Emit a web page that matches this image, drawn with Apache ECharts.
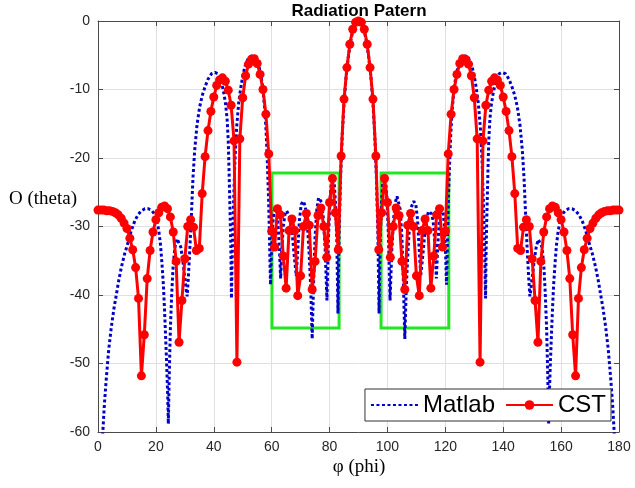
<!DOCTYPE html>
<html><head><meta charset="utf-8">
<script src="https://cdn.jsdelivr.net/npm/echarts@6/dist/echarts.min.js"></script>
<style>html,body{margin:0;padding:0;background:#fff}#c{width:635px;height:488px}</style>
</head><body><div id="c"></div>
<script>
const titleText = 'Radiation Patern';
const xName = 'φ (phi)';
const yName = 'O (theta)';
const seriesNames = ['Matlab', 'CST'];
const xMin = 0, xMax = 180, xStep = 20;
const yMin = -60, yMax = 0, yStep = 10;

// Matlab (blue dotted) : phi / dB pairs
const matlabPhi = [1.6,2.2,2.9,3.7,4.6,5.5,6.4,7.2,8.1,9.2,10.4,11.5,12.7,13.8,15.0,16.2,17.3,18.4,19.4,20.3,21.0,21.6,22.1,22.6,23.0,23.4,23.8,24.1,24.3,24.6,25.0,25.5,26.0,26.6,27.3,27.9,28.6,29.3,30.0,30.5,30.8,31.2,31.7,32.3,32.8,33.4,34.2,35.1,36.0,36.9,38.0,39.2,40.4,41.4,42.1,42.8,43.5,44.1,44.6,45.0,45.3,45.6,45.9,46.1,46.4,46.8,47.3,47.9,48.6,49.3,50.1,51.0,52.0,53.0,54.0,54.9,55.7,56.4,57.0,57.6,58.1,58.5,58.9,59.2,59.4,59.6,59.9,60.3,60.8,61.2,61.7,62.2,62.7,63.1,63.5,64.0,64.6,65.2,65.8,66.4,67.1,67.8,68.5,69.0,69.6,70.2,70.9,71.6,72.3,72.9,73.5,74.0,74.5,75.0,75.6,76.2,76.7,77.3,77.9,78.5,79.1,79.6,80.1,80.6,81.1,81.6,82.1,82.5,82.9,83.3,83.8,84.4,85.0,85.7,86.5,87.3,88.1,88.9,89.6,90.4,91.1,91.9,92.7,93.5,94.3,95.0,95.6,96.2,96.7,97.1,97.5,97.9,98.4,98.9,99.4,99.9,100.4,100.9,101.5,102.1,102.7,103.3,103.8,104.4,105.0,105.5,106.0,106.5,107.1,107.7,108.4,109.1,109.8,110.4,111.0,111.5,112.2,112.9,113.6,114.2,114.8,115.4,116.0,116.5,116.9,117.3,117.8,118.3,118.8,119.2,119.7,120.1,120.4,120.6,120.8,121.1,121.5,121.9,122.4,123.0,123.6,124.3,125.1,126.0,127.0,128.0,129.0,129.9,130.7,131.4,132.1,132.7,133.2,133.6,133.9,134.1,134.4,134.7,135.0,135.4,135.9,136.5,137.2,137.9,138.6,139.6,140.8,142.0,143.1,144.0,144.9,145.8,146.6,147.2,147.7,148.3,148.8,149.2,149.5,150.0,150.7,151.4,152.1,152.7,153.4,154.0,154.5,155.0,155.4,155.7,155.9,156.2,156.6,157.0,157.4,157.9,158.4,159.0,159.7,160.6,161.6,162.7,163.8,165.0,166.2,167.3,168.5,169.6,170.8,171.9,172.8,173.6,174.5,175.4,176.3,177.1,177.8,178.4];
const matlabDb = [-60.5,-56,-52,-48,-44.7,-42,-39.8,-37.8,-35.9,-34,-32.3,-30.6,-29.2,-28.3,-27.7,-27.4,-27.4,-27.6,-28.1,-29.1,-30.6,-32.7,-35.4,-38.6,-42.3,-46.5,-51,-55,-58.8,-52,-45,-39.5,-35.5,-33,-31.8,-31.9,-33,-35,-37.5,-39.4,-40.2,-37.5,-33.5,-28,-23,-18.9,-15.2,-12.6,-10.9,-9.7,-8.5,-7.7,-7.5,-7.7,-8.2,-9.2,-10.6,-12.2,-14.3,-17.5,-22.3,-27.5,-33,-40.5,-34,-27,-20.5,-15.5,-12.0,-9.8,-7.8,-6.3,-5.4,-5.1,-5.2,-5.8,-6.8,-8.2,-10.0,-12.8,-16.3,-20.5,-25.5,-30.5,-35,-38.5,-34,-30,-27.8,-27.3,-27.8,-29.8,-33.5,-37.6,-33.5,-30,-28.2,-27.7,-27.8,-28.8,-31,-34.3,-37.2,-33.5,-29,-26.8,-26.3,-27,-29.5,-33.5,-39,-46.4,-38,-31.5,-27.5,-25.8,-25.6,-26.5,-29,-33.5,-40.8,-32,-26.5,-23.5,-22.5,-23.5,-27,-32,-42.7,-31,-23,-16.5,-12.0,-8.2,-5.2,-2.9,-1.3,-0.3,0,0,-0.3,-1.3,-2.9,-5.2,-8.2,-12.0,-16.5,-23,-31,-42.7,-32,-27,-23.5,-22.5,-23.5,-26.5,-32,-40.8,-33.5,-29,-26.5,-25.6,-25.8,-27.5,-31.5,-38,-46.4,-39,-33.5,-29.5,-27,-26.3,-26.8,-29,-33.5,-37.2,-34.3,-31,-28.8,-27.8,-27.7,-28.2,-30,-33.5,-37.6,-33.5,-29.8,-27.8,-27.3,-27.8,-30,-34,-38.5,-35,-30.5,-25.5,-20.5,-16.3,-12.8,-10.0,-8.2,-6.8,-5.8,-5.2,-5.1,-5.4,-6.3,-7.8,-9.8,-12.0,-15.5,-20.5,-27,-34,-40.5,-33,-27.5,-22.3,-17.5,-14.3,-12.2,-10.6,-9.2,-8.2,-7.7,-7.5,-7.7,-8.5,-9.7,-10.9,-12.6,-15.2,-18.9,-23,-28,-33.5,-37.5,-40.2,-39.4,-37.5,-35,-33,-31.9,-31.8,-33,-35.5,-39.5,-45,-52,-58.8,-55,-51,-46.5,-42.3,-38.6,-35.4,-32.7,-30.6,-29.1,-28.1,-27.6,-27.4,-27.4,-27.7,-28.3,-29.2,-30.6,-32.3,-34,-35.9,-37.8,-39.8,-42,-44.7,-48,-52,-56,-60.5];

// CST (red, markers) : one value per degree, phi = 0 .. 180
const cstPhiStart = 0, cstPhiStep = 1;
const cstDb = [-27.6,-27.6,-27.6,-27.7,-27.7,-27.8,-28.0,-28.3,-28.8,-29.5,
-30.3,-31.7,-33.4,-36.0,-40.5,-51.8,-45.8,-37.6,-33.5,-30.8,
-29.0,-28.0,-27.2,-27.0,-27.4,-28.6,-30.8,-35.1,-46.9,-40.8,
-34.7,-30.0,-29.0,-30.1,-33.5,-33.2,-25.2,-19.8,-16.0,-13.2,
-11.1,-9.4,-8.6,-8.3,-8.8,-10.1,-12.3,-17.5,-49.8,-17.2,
-11.2,-8.0,-6.3,-5.6,-5.5,-6.2,-7.8,-10.0,-13.6,-19.4,
-30.7,-33.0,-27.4,-28.3,-34.3,-39.0,-30.6,-28.9,-30.6,-40.1,
-37.2,-30.0,-28.1,-29.8,-39.2,-35.1,-28.4,-27.3,-30.0,-34.5,
-26.5,-23.0,-28.0,-33.4,-19.7,-11.4,-6.8,-3.4,-1.2,-0.2,
0,
-0.2,-1.2,-3.4,-6.8,-11.4,-19.7,-33.4,-28.0,-23.0,-26.5,
-34.5,-30.0,-27.3,-28.4,-35.1,-39.2,-29.8,-28.1,-30.0,-37.2,
-40.1,-30.6,-28.9,-30.6,-39.0,-34.3,-28.3,-27.4,-33.0,-30.7,
-19.4,-13.6,-10.0,-7.8,-6.2,-5.5,-5.6,-6.3,-8.0,-11.2,
-17.2,-49.8,-17.5,-12.3,-10.1,-8.8,-8.3,-8.6,-9.4,-11.1,
-13.2,-16.0,-19.8,-25.2,-33.2,-33.5,-30.1,-29.0,-30.0,-34.7,
-40.8,-46.9,-35.1,-30.8,-28.6,-27.4,-27.0,-27.2,-28.0,-29.0,
-30.8,-33.5,-37.6,-45.8,-51.8,-40.5,-36.0,-33.4,-31.7,-30.3,
-29.5,-28.8,-28.3,-28.0,-27.8,-27.7,-27.7,-27.6,-27.6,-27.6];

// Green highlight boxes: [phiFrom, dbTop, phiTo, dbBottom]
const boxLeft = [60.1, -22.2, 83.3, -44.8];
const boxRight = [97.8, -22.2, 121.2, -44.8];

const matlabData = matlabPhi.map((p, i) => [p, matlabDb[i]]);
const cstData = cstDb.map((v, i) => [cstPhiStart + i * cstPhiStep, v]);
const boxes = [boxLeft, boxRight].map(b => [{coord: [b[0], b[1]]}, {coord: [b[2], b[3]]}]);

const frameColor = '#4a4a4a';
const labelColor = '#262626';
const sans = '"Liberation Sans", Arial, sans-serif';
const serif = '"Liberation Serif", "Times New Roman", serif';

const chart = echarts.init(document.getElementById('c'), null, {renderer: 'canvas'});
const baseX = {type: 'value', min: xMin, max: xMax, interval: xStep};
const baseY = {type: 'value', min: yMin, max: yMax, interval: yStep};
chart.setOption({
  animation: false,
  backgroundColor: '#fff',
  grid: {left: 98, right: 16, top: 21, bottom: 56, containLabel: false},
  xAxis: [
    Object.assign({}, baseX, {
      position: 'bottom',
      axisLine: {show: true, onZero: false, lineStyle: {color: frameColor, width: 1}},
      axisTick: {show: true, inside: true, length: 5, lineStyle: {color: frameColor}},
      axisLabel: {color: labelColor, fontSize: 14, fontFamily: sans, margin: 8},
      splitLine: {show: true, lineStyle: {color: '#e0e0e0', width: 1}}
    }),
    Object.assign({}, baseX, {
      position: 'top',
      axisLine: {show: true, onZero: false, lineStyle: {color: frameColor, width: 1}},
      axisTick: {show: true, inside: true, length: 5, lineStyle: {color: frameColor}},
      axisLabel: {show: false},
      splitLine: {show: false}
    })
  ],
  yAxis: [
    Object.assign({}, baseY, {
      position: 'left',
      axisLine: {show: true, onZero: false, lineStyle: {color: frameColor, width: 1}},
      axisTick: {show: true, inside: true, length: 5, lineStyle: {color: frameColor}},
      axisLabel: {color: labelColor, fontSize: 14, fontFamily: sans, margin: 8},
      splitLine: {show: true, lineStyle: {color: '#e0e0e0', width: 1}}
    }),
    Object.assign({}, baseY, {
      position: 'right',
      axisLine: {show: true, onZero: false, lineStyle: {color: frameColor, width: 1}},
      axisTick: {show: true, inside: true, length: 5, lineStyle: {color: frameColor}},
      axisLabel: {show: false},
      splitLine: {show: false}
    })
  ],
  legend: {
    show: true,
    right: 24, top: 389,
    orient: 'horizontal',
    padding: [4, 5, 4, 5],
    itemGap: 10,
    itemWidth: 47, itemHeight: 12,
    backgroundColor: '#fff',
    borderColor: '#333', borderWidth: 1,
    textStyle: {fontSize: 24, fontFamily: sans, color: '#000'},
    data: [
      {name: seriesNames[0], itemStyle: {opacity: 0}},
      {name: seriesNames[1]}
    ]
  },
  graphic: [
    {type: 'text', x: 359, y: 11, z: 100,
     style: {text: titleText, fill: '#000', font: 'bold 17px ' + sans,
             textAlign: 'center', textVerticalAlign: 'middle', align: 'center', verticalAlign: 'middle'}},
    {type: 'text', x: 9, y: 199, z: 100,
     style: {text: yName, fill: '#000', font: '19px ' + serif,
             textAlign: 'left', textVerticalAlign: 'middle', align: 'left', verticalAlign: 'middle'}},
    {type: 'text', x: 359, y: 467, z: 100,
     style: {text: xName, fill: '#000', font: '19px ' + serif,
             textAlign: 'center', textVerticalAlign: 'middle', align: 'center', verticalAlign: 'middle'}}
  ],
  series: [
    {
      name: seriesNames[0], type: 'line', data: matlabData,
      xAxisIndex: 0, yAxisIndex: 0,
      showSymbol: false, symbol: 'none', clip: true, z: 2,
      lineStyle: {color: '#0000c8', width: 3, type: [3, 2.5]},
      itemStyle: {color: '#0000c8'},
      markArea: {
        silent: true,
        itemStyle: {color: 'rgba(0,0,0,0)', borderColor: '#22e622', borderWidth: 3},
        data: boxes
      }
    },
    {
      name: seriesNames[1], type: 'line', data: cstData,
      xAxisIndex: 0, yAxisIndex: 0,
      symbol: 'circle', symbolSize: 9, showSymbol: true, clip: true, z: 3,
      lineStyle: {color: '#ff0000', width: 3},
      itemStyle: {color: '#ff0000'}
    }
  ]
});
</script>
</body></html>
